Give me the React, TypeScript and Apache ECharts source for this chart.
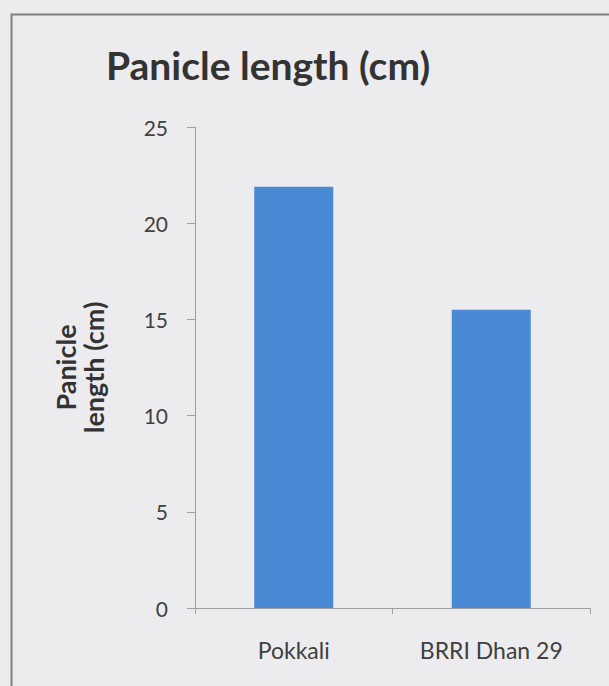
import React, { useEffect, useRef } from "react";
import * as echarts from "echarts";

const categories = ["Pokkali", "BRRI Dhan 29"];
const panicleLength = [21.9, 15.5];
const yTicks = { min: 0, max: 25, interval: 5 };
const titleText = "Panicle length (cm)";
const yAxisTitle = "Panicle\nlength (cm)";

export default function App() {
  const ref = useRef<HTMLDivElement>(null);
  useEffect(() => {
    if (!ref.current) return;
    const chart = echarts.init(ref.current, null, { renderer: "svg" });
    chart.setOption({
      animation: false,
      backgroundColor: "#ececef",
      textStyle: { fontFamily: "Lato" },
      title: {
        text: titleText,
        left: 263,
        top: 40,
        textAlign: "center",
        textStyle: { fontFamily: "Lato", fontWeight: "bold", fontSize: 39, color: "#333333" },
      },
      graphic: [
        {
          type: "rect",
          shape: { x: 11.5, y: 14.5, width: 700, height: 800 },
          style: { fill: "none", stroke: "#7f7f7f", lineWidth: 2 },
          silent: true,
        },
      ],
      grid: { left: 195, right: 19, top: 127, bottom: 78 },
      xAxis: {
        type: "category",
        data: categories,
        axisLine: { lineStyle: { color: "#a0a0a0", width: 1 } },
        axisTick: { show: true, length: 6, interval: 0, lineStyle: { color: "#a0a0a0" } },
        axisLabel: { margin: 30, fontSize: 23, color: "#404040", fontFamily: "Lato" },
      },
      yAxis: {
        type: "value",
        min: yTicks.min,
        max: yTicks.max,
        interval: yTicks.interval,
        name: yAxisTitle,
        nameLocation: "middle",
        nameRotate: 90,
        nameGap: 88,
        nameTextStyle: { fontFamily: "Lato", fontWeight: "bold", fontSize: 27, color: "#333333", lineHeight: 28 },
        axisLine: { show: true, lineStyle: { color: "#a0a0a0", width: 1 } },
        axisTick: { show: true, length: 8, lineStyle: { color: "#a0a0a0" } },
        axisLabel: { margin: 27, fontSize: 21, color: "#404040", fontFamily: "Lato" },
        splitLine: { show: false },
      },
      series: [
        {
          type: "bar",
          data: panicleLength,
          barCategoryGap: "60%",
          itemStyle: { color: "#4a89d3" },
        },
      ],
    });
    return () => chart.dispose();
  }, []);
  return (
    <div
      ref={ref}
      style={{ position: "fixed", left: 0, top: 0, width: 609, height: 686 }}
    />
  );
}
